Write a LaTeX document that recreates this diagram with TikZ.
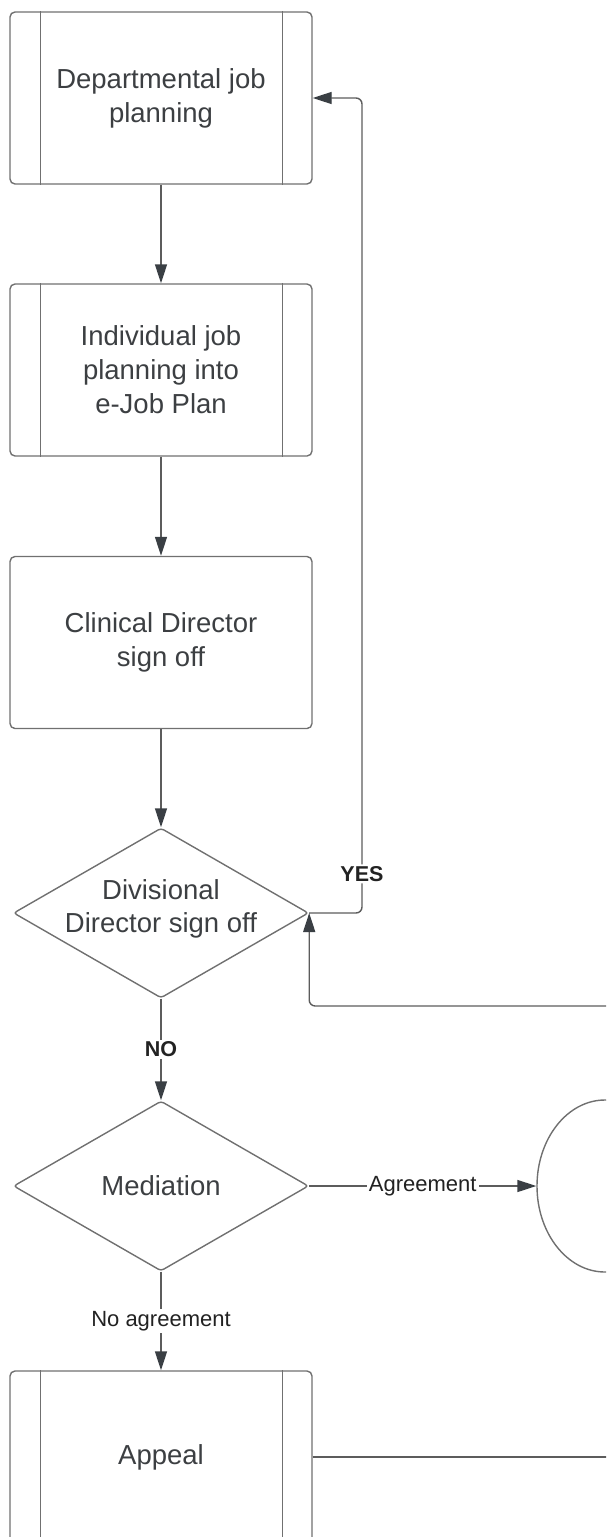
\documentclass[tikz,border=0pt]{standalone}
\usepackage{fontspec}
\setmainfont{Liberation Sans}
\usetikzlibrary{arrows.meta,shapes.geometric}
\definecolor{boxline}{HTML}{707070}
\definecolor{conline}{HTML}{5C5C5C}
\definecolor{tipcol}{HTML}{3A3F44}
\definecolor{txt}{HTML}{3C3F42}
\definecolor{lbl}{HTML}{222222}
\begin{document}
\begin{tikzpicture}[x=1pt,y=-1pt,
 procbox/.style={draw=boxline, line width=1.4pt, rounded corners=5pt, minimum width=302pt, minimum height=172pt, inner sep=0pt, align=center, font=\fontsize{27.5}{34}\selectfont, text=txt},
 termbox/.style={draw=boxline, line width=1.4pt, ellipse, minimum width=136pt, minimum height=172pt, inner sep=0pt},
 decision/.style={draw=boxline, line width=1.4pt, shape=diamond, rounded corners=3pt, minimum width=295pt, minimum height=170pt, inner sep=0pt},
 dtext/.style={align=center, font=\fontsize{27.5}{33}\selectfont, text=txt, inner sep=0pt},
 sideline/.style={draw=boxline, line width=1.4pt},
 conn/.style={draw=conline, line width=1.4pt, -{Triangle[length=19pt,width=12pt,color=tipcol]}},
 plainconn/.style={draw=conline, line width=1.4pt},
 lab/.style={fill=white, inner sep=2pt, text=lbl, font=\fontsize{22}{26}\selectfont},
 labbold/.style={fill=white, inner sep=2pt, text=lbl, font=\fontsize{21.5}{26}\selectfont\bfseries},
]
\useasboundingbox (0,0) rectangle (606,1537);
\clip (0,0) rectangle (606,1537);

% boxes
\node[procbox] (b1) at (161,98) {Departmental job\\planning};
\node[procbox] (b2) at (161,370) {Individual job\\planning into\\e-Job Plan};
\node[procbox] (b3) at (161,642.5) {Clinical Director\\sign off};
\node[decision] (d1) at (161,913) {};
\node[dtext] (d1t) at ([yshift=4pt]d1.center) {Divisional\\Director sign off};
\node[decision] (d2) at (161,1186) {};
\node[dtext] (d2t) at (d2.center) {Mediation};
\node[procbox] (ap) at (161,1457) {Appeal};
\node[termbox] (term) at (605,1186) {};

% inner side lines of process boxes
\foreach \n in {b1,b2,ap}{
  \draw[sideline] ([xshift=31pt]\n.north west) -- ([xshift=31pt]\n.south west);
  \draw[sideline] ([xshift=-30pt]\n.north east) -- ([xshift=-30pt]\n.south east);
}

% off-page ends
\coordinate (offr) at (612,1006);
\coordinate (offa) at (612,1457);

% connectors
\draw[conn] (b1) -- (b2);
\draw[conn] (b2) -- (b3);
\draw[conn] (b3) -- (d1);
\draw[conn, rounded corners=6pt] (d1.east) -- (362,913) -- node[labbold, pos=0.048] {YES} (362,98) -- (b1.east);
\draw[conn, rounded corners=6pt] (offr) -| (d1.east);
\draw[conn] (d1.south) -- node[labbold] {NO} (d2.north);
\draw[conn] (d2.east) -- node[lab] {Agreement} (term.west);
\draw[conn] (d2.south) -- node[lab] {No agreement} (ap.north);
\draw[plainconn] (ap.east) -- (offa);
\end{tikzpicture}
\end{document}
